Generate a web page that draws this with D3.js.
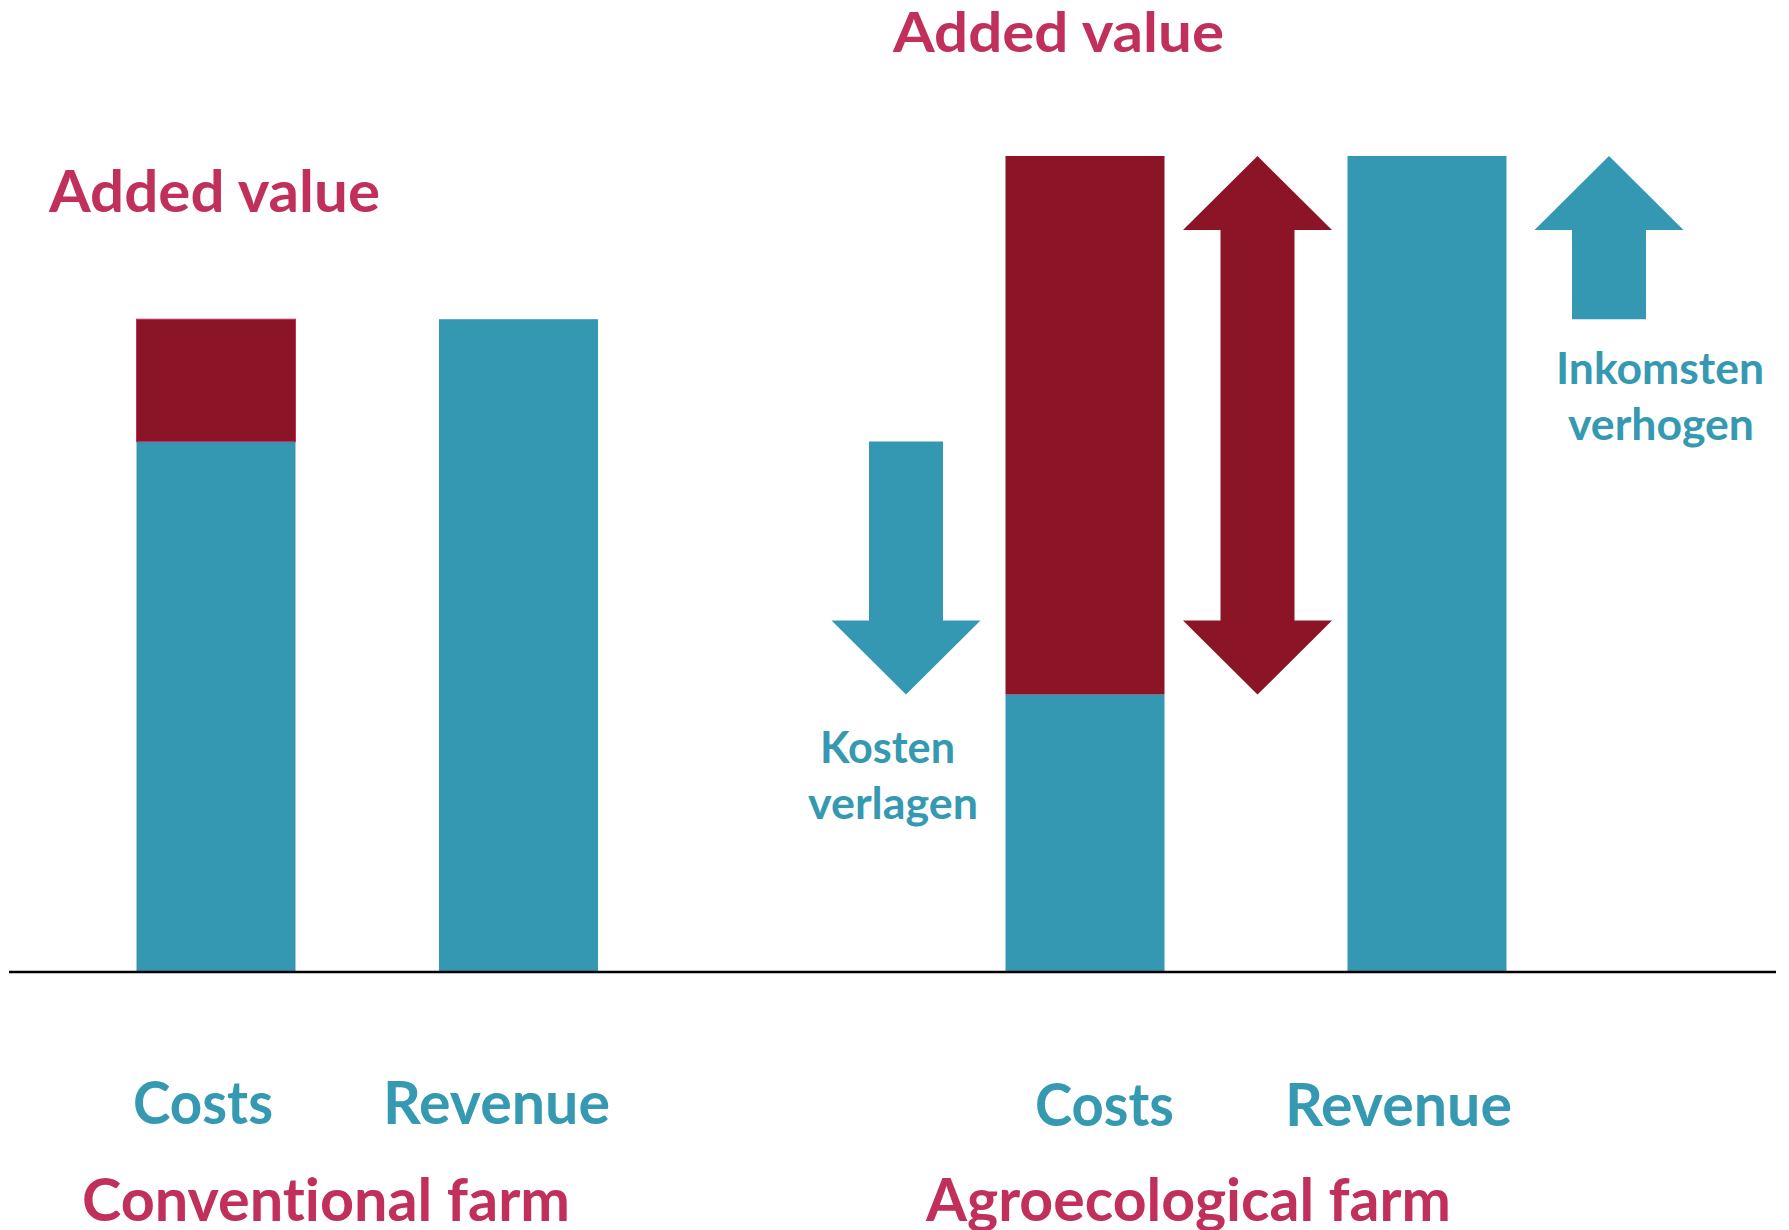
<!DOCTYPE html>
<html>
<head>
<meta charset="utf-8">
<script src="https://cdn.jsdelivr.net/npm/d3@7"></script>
<style>
  body { margin: 0; background: #fff; }
  text { font-family: Lato, "Open Sans", sans-serif; font-weight: 700; font-variant-ligatures: none; }
</style>
</head>
<body>
<div id="chart-area"></div>
<script>

// data
var farms = ["Conventional farm", "Agroecological farm"];
var categories = ["Costs", "Revenue"];
var costValues = [6.5, 3.4];
var addedValues = [1.5, 6.6];
var revenueValues = [8.0, 10.0];
var arrowLabels = ["Kosten verlagen", "Inkomsten verhogen"];

var TEAL = "#3598b3";
var DARKRED = "#8c1427";
var CRIMSON = "#c0305a";
var TEXTTEAL = "#3499b1";

/*
 * FarmChart - constructor
 */
FarmChart = function(_parentElement){
  this.parentElement = _parentElement;
  this.initVis();
}

FarmChart.prototype.initVis = function(){
  var vis = this;

  vis.width = 1789;
  vis.height = 1230;

  vis.svg = d3.select("#" + vis.parentElement).append("svg")
      .attr("width", vis.width)
      .attr("height", vis.height);

  vis.svg.append("rect")
      .attr("width", vis.width)
      .attr("height", vis.height)
      .attr("fill", "#fff");

  // value scale
  vis.y = d3.scaleLinear()
      .domain([0, 10])
      .range([972, 156]);

  // one point scale per farm group for the bars
  vis.xGroup = [
    d3.scalePoint().domain(categories).range([216, 518.5]),
    d3.scalePoint().domain(categories).range([1085, 1427])
  ];

  // arrows between the agroecological bars
  vis.xArrow = d3.scalePoint()
      .domain(["down", "both", "up"])
      .range([906, 1609]);

  vis.barWidth = 159;
  vis.headWidth = 149;
  vis.shaftWidth = 74;
  vis.headLength = 74;

  vis.wrangleData();
}

FarmChart.prototype.wrangleData = function(){
  var vis = this;

  vis.displayData = farms.map(function(f, i){
    return {
      farm: f,
      scale: vis.xGroup[i],
      costs: costValues[i],
      added: addedValues[i],
      revenue: revenueValues[i]
    };
  });

  vis.updateVis();
}

// vertical arrow path from tail to tip; both=true makes it double headed
FarmChart.prototype.arrowPath = function(cx, yTail, yTip, both){
  var vis = this;
  var dir = yTip < yTail ? -1 : 1;
  var hw = vis.headWidth / 2, sw = vis.shaftWidth / 2, hl = vis.headLength;
  var p = d3.path();
  p.moveTo(cx, yTip);
  p.lineTo(cx + hw, yTip - dir * hl);
  p.lineTo(cx + sw, yTip - dir * hl);
  if (both) {
    p.lineTo(cx + sw, yTail + dir * hl);
    p.lineTo(cx + hw, yTail + dir * hl);
    p.lineTo(cx, yTail);
    p.lineTo(cx - hw, yTail + dir * hl);
    p.lineTo(cx - sw, yTail + dir * hl);
  } else {
    p.lineTo(cx + sw, yTail);
    p.lineTo(cx - sw, yTail);
  }
  p.lineTo(cx - sw, yTip - dir * hl);
  p.lineTo(cx - hw, yTip - dir * hl);
  p.closePath();
  return p.toString();
}

FarmChart.prototype.updateVis = function(){
  var vis = this;
  var data = vis.displayData;

  // cost bars (teal part)
  vis.svg.selectAll(".cost-bar").data(data)
    .enter().append("rect")
      .attr("class", "cost-bar")
      .attr("x", function(d){ return d.scale("Costs") - vis.barWidth / 2; })
      .attr("y", function(d){ return vis.y(d.costs); })
      .attr("width", vis.barWidth)
      .attr("height", function(d){ return vis.y(0) - vis.y(d.costs); })
      .attr("fill", TEAL);

  // added value stacked on costs
  vis.svg.selectAll(".added-bar").data(data)
    .enter().append("rect")
      .attr("class", "added-bar")
      .attr("x", function(d){ return d.scale("Costs") - vis.barWidth / 2; })
      .attr("y", function(d){ return vis.y(d.costs + d.added); })
      .attr("width", vis.barWidth)
      .attr("height", function(d){ return vis.y(d.costs) - vis.y(d.costs + d.added); })
      .attr("fill", DARKRED)
      .attr("stroke", function(d, i){ return i === 0 ? CRIMSON : "none"; })
      .attr("stroke-width", 1);

  // revenue bars
  vis.svg.selectAll(".rev-bar").data(data)
    .enter().append("rect")
      .attr("class", "rev-bar")
      .attr("x", function(d){ return d.scale("Revenue") - vis.barWidth / 2; })
      .attr("y", function(d){ return vis.y(d.revenue); })
      .attr("width", vis.barWidth)
      .attr("height", function(d){ return vis.y(0) - vis.y(d.revenue); })
      .attr("fill", TEAL);

  // baseline
  vis.svg.append("line")
      .attr("x1", 9).attr("x2", 1776)
      .attr("y1", vis.y(0)).attr("y2", vis.y(0))
      .attr("stroke", "#000")
      .attr("stroke-width", 2.5);

  // arrows: lower costs, bigger added value, higher revenue
  var conv = data[0], agro = data[1];
  var arrows = [
    { x: vis.xArrow("down"), tail: vis.y(conv.costs), tip: vis.y(agro.costs), both: false, color: TEAL },
    { x: vis.xArrow("both"), tail: vis.y(agro.costs), tip: vis.y(agro.costs + agro.added), both: true, color: DARKRED },
    { x: vis.xArrow("up"), tail: vis.y(conv.revenue), tip: vis.y(agro.revenue), both: false, color: TEAL }
  ];
  vis.svg.selectAll(".arrow").data(arrows)
    .enter().append("path")
      .attr("class", "arrow")
      .attr("d", function(d){ return vis.arrowPath(d.x, d.tail, d.tip, d.both); })
      .attr("fill", function(d){ return d.color; });

  // text annotations
  var labels = [
    { t: "Added value", x: 49, y: 212, len: 331, size: 57, c: CRIMSON },
    { t: "Added value", x: 893, y: 52, len: 331, size: 56, c: CRIMSON },
    { t: arrowLabels[1].split(" ")[0], x: 1556, y: 384, len: 208, size: 43, c: TEXTTEAL },
    { t: arrowLabels[1].split(" ")[1], x: 1568, y: 440, len: 186, size: 43, c: TEXTTEAL },
    { t: arrowLabels[0].split(" ")[0], x: 820, y: 763, len: 135, size: 43, c: TEXTTEAL },
    { t: arrowLabels[0].split(" ")[1], x: 808, y: 819, len: 170, size: 43, c: TEXTTEAL },
    { t: categories[0], x: 133, y: 1124, len: 140, size: 60, c: TEXTTEAL },
    { t: categories[1], x: 383, y: 1124, len: 227, size: 60, c: TEXTTEAL },
    { t: categories[0], x: 1035, y: 1126, len: 139, size: 60, c: TEXTTEAL },
    { t: categories[1], x: 1285, y: 1126, len: 227, size: 60, c: TEXTTEAL },
    { t: farms[0], x: 82, y: 1221, len: 488, size: 60, c: CRIMSON },
    { t: farms[1], x: 926, y: 1221, len: 525, size: 60, c: CRIMSON }
  ];
  vis.svg.selectAll(".label").data(labels)
    .enter().append("text")
      .attr("class", "label")
      .attr("x", function(d){ return d.x; })
      .attr("y", function(d){ return d.y; })
      .attr("font-size", function(d){ return d.size; })
      .attr("textLength", function(d){ return d.len; })
      .attr("lengthAdjust", "spacingAndGlyphs")
      .attr("fill", function(d){ return d.c; })
      .text(function(d){ return d.t; });
}

var chart = new FarmChart("chart-area");
</script>
</body>
</html>
